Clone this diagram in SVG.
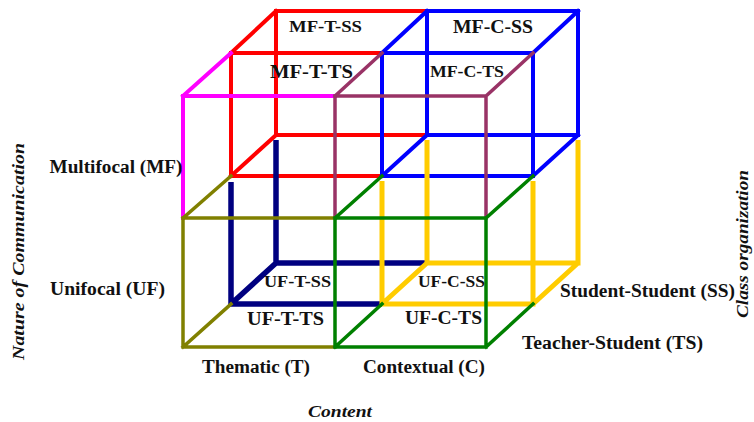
<svg xmlns="http://www.w3.org/2000/svg" width="754" height="422" viewBox="0 0 754 422">
<style>
.e{fill:none;stroke-linecap:square;stroke-linejoin:miter}
.mag{stroke:#FF00FF;stroke-width:4}
.red{stroke:#FF0000;stroke-width:4}
.pur{stroke:#993366;stroke-width:3.5}
.blu{stroke:#0000FF;stroke-width:4}
.oli{stroke:#808000;stroke-width:3.5}
.nav{stroke:#000080;stroke-width:5.5;stroke-linecap:butt}
.grn{stroke:#008000;stroke-width:3.5}
.yel{stroke:#FFCC00;stroke-width:5;stroke-linecap:butt}
text{font-family:"Liberation Serif","Times New Roman",serif;font-weight:bold;fill:#111;font-size:18px}
.it{font-style:italic}
</style>
<rect width="754" height="422" fill="#fff"/>
<g id="connectors">
<g id="cube-MF-T-SS">
<path class="e red" d="M382,53 H231 V176 H382 M427,11 H276 V135 H427 M231,53 L276,11 M231,176 L276,135"/>
</g>
<g id="cube-MF-C-SS">
<path class="e blu" d="M382,53 H533 V176 H382 Z M427,11 H578 V135 H427 Z M382,53 L427,11 M533,53 L578,11 M382,176 L427,135 M533,176 L578,135"/>
</g>
<g id="cube-UF-T-SS">
<path class="e nav" d="M231,182 V304 H382 M276,140 V263 H427 M231,304 L276,263"/>
</g>
<g id="cube-UF-C-SS">
<path class="e yel" d="M382,181 V304 H533 V181 M427,140 V263 H578 V140 M382,304 L427,263 M533,304 L578,263"/>
</g>
<g id="cube-MF-T-TS">
<path class="e mag" d="M183,218 V96 H335 M183,96 L231,53"/>
</g>
<g id="cube-MF-C-TS">
<path class="e pur" d="M335,218 V96 H486 V218 M335,96 L382,53 M486,96 L533,53"/>
</g>
<g id="cube-UF-T-TS">
<path class="e oli" d="M335,218 H183 V347 H335 M183,218 L231,176 M183,347 L231,304"/>
</g>
<g id="cube-UF-C-TS">
<path class="e grn" d="M335,218 H486 V347 H335 Z M335,218 L382,176 M486,218 L533,176 M335,347 L382,304 M486,347 L533,304"/>
</g>
</g>
<g id="labels-cells">
<text x="289" y="32" textLength="73" lengthAdjust="spacingAndGlyphs" style="font-size:17px">MF-T-SS</text>
<text x="270" y="77.5" textLength="83" lengthAdjust="spacingAndGlyphs" style="font-size:19px">MF-T-TS</text>
<text x="453" y="33" textLength="80" lengthAdjust="spacingAndGlyphs">MF-C-SS</text>
<text x="430" y="77" textLength="74" lengthAdjust="spacingAndGlyphs" style="font-size:17px">MF-C-TS</text>
<text x="264" y="286.5" textLength="67" lengthAdjust="spacingAndGlyphs" style="font-size:17px">UF-T-SS</text>
<text x="247" y="325" textLength="77" lengthAdjust="spacingAndGlyphs">UF-T-TS</text>
<text x="418" y="286.5" textLength="67" lengthAdjust="spacingAndGlyphs" style="font-size:17px">UF-C-SS</text>
<text x="405" y="323.5" textLength="77" lengthAdjust="spacingAndGlyphs">UF-C-TS</text>
</g>
<g id="labels-axes">
<text x="49.5" y="172.5" textLength="133" lengthAdjust="spacingAndGlyphs">Multifocal (MF)</text>
<text x="50" y="295" textLength="115" lengthAdjust="spacingAndGlyphs">Unifocal (UF)</text>
<text x="202" y="373" textLength="108" lengthAdjust="spacingAndGlyphs">Thematic (T)</text>
<text x="363" y="373" textLength="122" lengthAdjust="spacingAndGlyphs">Contextual (C)</text>
<text x="560" y="297" textLength="175" lengthAdjust="spacingAndGlyphs">Student-Student (SS)</text>
<text x="522" y="349" textLength="181" lengthAdjust="spacingAndGlyphs">Teacher-Student (TS)</text>
<text class="it" x="308" y="417" textLength="64" lengthAdjust="spacingAndGlyphs" style="font-size:17px">Content</text>
<text class="it" transform="translate(24,360) rotate(-90)" textLength="217" lengthAdjust="spacingAndGlyphs" style="font-size:17px">Nature of Communication</text>
<text class="it" transform="translate(748,318) rotate(-90)" textLength="148" lengthAdjust="spacingAndGlyphs" style="font-size:16px">Class organization</text>
</g>
</svg>
